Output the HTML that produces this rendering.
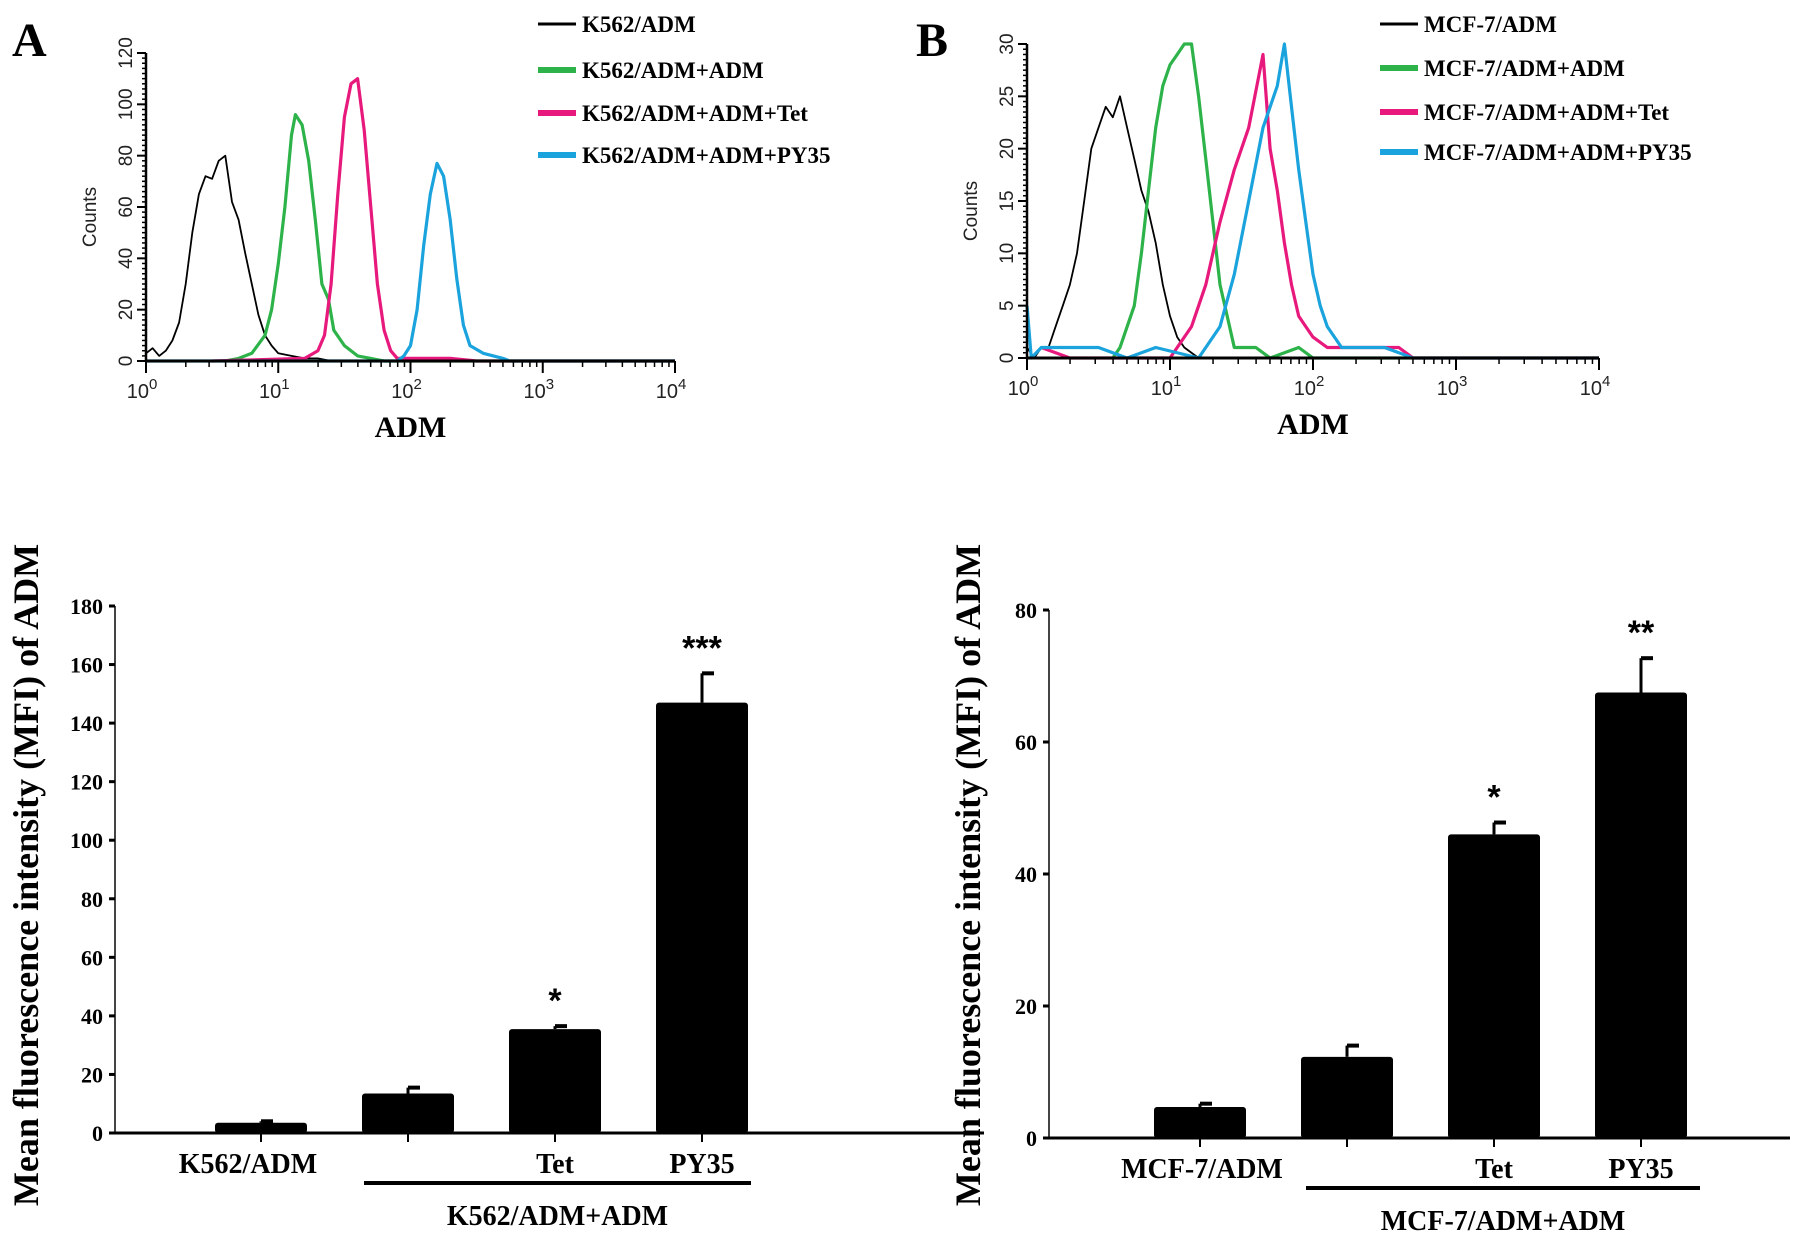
<!DOCTYPE html>
<html><head><meta charset="utf-8"><style>
html,body{margin:0;padding:0;background:#fff;}
svg{display:block;}
</style></head><body>
<svg id="fig" width="1795" height="1234" viewBox="0 0 1795 1234" xmlns="http://www.w3.org/2000/svg">
<text x="12" y="56" font-family="Liberation Serif, serif" font-weight="bold" font-size="48">A</text>
<text x="916" y="56" font-family="Liberation Serif, serif" font-weight="bold" font-size="48">B</text>
</svg>
<script>
const NS='http://www.w3.org/2000/svg';
const svg=document.getElementById('fig');
function mk(tag,attrs,parent,text){const e=document.createElementNS(NS,tag);for(const k in attrs)e.setAttribute(k,attrs[k]);if(text!==undefined)e.textContent=text;(parent||svg).appendChild(e);return e;}

// ---------- Histogram data ----------
const histColors=['#000000','#2db34a','#e8197d','#1aa3dc'];
const histA_names=['K562/ADM','K562/ADM+ADM','K562/ADM+ADM+Tet','K562/ADM+ADM+PY35'];
const histA_black=[[0,3],[0.05,5],[0.1,2],[0.15,4],[0.2,8],[0.25,15],[0.3,30],[0.35,50],[0.4,65],[0.45,72],[0.5,71],[0.55,78],[0.6,80],[0.65,62],[0.7,55],[0.75,42],[0.8,30],[0.85,18],[0.9,10],[0.95,6],[1.0,3],[1.1,2],[1.2,1],[1.3,1],[1.4,0],[4,0]];
const histA_green=[[0.6,0],[0.7,1],[0.8,3],[0.9,10],[0.95,20],[1.0,38],[1.05,60],[1.1,88],[1.13,96],[1.18,92],[1.23,78],[1.28,55],[1.33,30],[1.38,24],[1.42,12],[1.5,6],[1.6,2],[1.7,1],[1.8,0],[4,0]];
const histA_pink=[[0.5,0],[1.2,1],[1.3,4],[1.35,10],[1.4,30],[1.45,65],[1.5,95],[1.55,108],[1.6,110],[1.65,90],[1.7,60],[1.75,30],[1.8,12],[1.85,4],[1.9,1],[2.0,1],[2.3,1],[2.5,0],[4,0]];
const histA_cyan=[[0,0],[1.9,0],[1.95,2],[2.0,6],[2.05,20],[2.1,45],[2.15,65],[2.2,77],[2.25,72],[2.3,55],[2.35,32],[2.4,14],[2.45,6],[2.55,3],[2.7,1],[2.75,0],[4,0]];
const histA_yticks=[0,20,40,60,80,100,120];

const histB_names=['MCF-7/ADM','MCF-7/ADM+ADM','MCF-7/ADM+ADM+Tet','MCF-7/ADM+ADM+PY35'];
const histB_black=[[0,1],[0.05,0],[0.1,1],[0.15,1],[0.2,3],[0.25,5],[0.3,7],[0.35,10],[0.4,15],[0.45,20],[0.5,22],[0.55,24],[0.6,23],[0.65,25],[0.7,22],[0.75,19],[0.8,16],[0.85,14],[0.9,11],[0.95,7],[1.0,4],[1.05,2],[1.1,1],[1.2,0],[4,0]];
const histB_green=[[0.6,0],[0.65,1],[0.75,5],[0.8,10],[0.85,16],[0.9,22],[0.95,26],[1.0,28],[1.05,29],[1.1,30],[1.15,30],[1.2,25],[1.25,19],[1.3,13],[1.35,7],[1.4,4],[1.45,1],[1.5,1],[1.6,1],[1.7,0],[1.9,1],[2.0,0],[4,0]];
const histB_pink=[[0.1,1],[0.3,0],[1.0,0],[1.05,1],[1.15,3],[1.25,7],[1.35,13],[1.45,18],[1.55,22],[1.65,29],[1.7,20],[1.75,16],[1.8,11],[1.85,7],[1.9,4],[1.95,3],[2.0,2],[2.1,1],[2.4,1],[2.6,1],[2.7,0],[4,0]];
const histB_cyan=[[0,5],[0.03,0],[0.1,1],[0.3,1],[0.5,1],[0.7,0],[0.9,1],[1.2,0],[1.35,3],[1.45,8],[1.55,15],[1.65,22],[1.75,26],[1.8,30],[1.85,24],[1.9,18],[1.95,13],[2.0,8],[2.05,5],[2.1,3],[2.2,1],[2.5,1],[2.7,0],[4,0]];
const histB_yticks=[0,5,10,15,20,25,30];
const decades=['0','1','2','3','4'];

// ---------- Bar data ----------
const barA_values=[3.5,13.5,35.5,147];
const barA_errors=[0.5,2,1,10];
const barA_stars=['','','*','***'];
const barA_yticks=[0,20,40,60,80,100,120,140,160,180];
const barA_labels=['K562/ADM','','Tet','PY35'];

const barB_values=[4.7,12.3,46,67.5];
const barB_errors=[0.5,1.7,1.8,5.2];
const barB_stars=['','','*','**'];
const barB_yticks=[0,20,40,60,80];
const barB_labels=['MCF-7/ADM','','Tet','PY35'];

function hist(o){
  const g=mk('g',{});
  
  
  const X=v=>o.x0+(v/4)*(o.x1-o.x0);
  const Y=v=>o.y0-(v/o.ymax)*(o.y0-o.y1);
  o.series.forEach((s,i)=>{
    const pts=s.map(p=>X(p[0]).toFixed(1)+','+Y(p[1]).toFixed(1)).join(' ');
    const pl=mk('polyline',{points:pts,fill:'none',stroke:histColors[i],'stroke-width':i==0?1.8:3.2,'stroke-linejoin':'round'},g);
    
    
  });
  mk('line',{x1:o.x0,y1:o.y0,x2:o.x1,y2:o.y0,stroke:'#000','stroke-width':3},g);
  mk('line',{x1:o.x0,y1:o.y0,x2:o.x0,y2:o.y1,stroke:'#000','stroke-width':2.5},g);
  const step=o.ymax/60;
  for(let v=0;v<=o.ymax+1e-9;v+=step){mk('line',{x1:o.x0-4,y1:Y(v),x2:o.x0,y2:Y(v),stroke:'#000','stroke-width':1.5},g);}
  o.yticks.forEach(v=>{
    mk('line',{x1:o.x0-9,y1:Y(v),x2:o.x0,y2:Y(v),stroke:'#000','stroke-width':2},g);
    const t=mk('text',{x:o.x0-14,y:Y(v),transform:`rotate(-90 ${o.x0-14} ${Y(v)})`,'text-anchor':'middle','font-family':'Liberation Sans, sans-serif','font-size':19,fill:'#222'},g,String(v));
    
    
  });
  for(let d=0;d<4;d++){for(let k=2;k<=9;k++){const xx=X(d+Math.log10(k));mk('line',{x1:xx,y1:o.y0,x2:xx,y2:o.y0+6,stroke:'#000','stroke-width':1.5},g);}}
  decades.forEach(d=>{
    const xx=X(+d);
    mk('line',{x1:xx,y1:o.y0,x2:xx,y2:o.y0+12,stroke:'#000','stroke-width':2},g);
    const t=mk('text',{x:xx-4,y:o.y0+37,'text-anchor':'middle','font-family':'Liberation Sans, sans-serif','font-size':20,fill:'#222'},g);
    
    
    mk('tspan',{},t,'10');
    mk('tspan',{dy:-9,'font-size':15},t,d);
  });
  const yt=mk('text',{x:o.x0-50,y:(o.y0+o.y1)/2+10,transform:`rotate(-90 ${o.x0-50} ${(o.y0+o.y1)/2+10})`,'text-anchor':'middle','font-family':'Liberation Sans, sans-serif','font-size':19,fill:'#222'},g,'Counts');
  
  
  const xt=mk('text',{x:(o.x0+o.x1)/2,y:o.y0+76,'text-anchor':'middle','font-family':'Liberation Serif, serif','font-weight':'bold','font-size':30},g,'ADM');
  
  
  o.names.forEach((n,i)=>{
    const ly=o.legY[i];
    const le=mk('g',{},g);
    
    
    mk('line',{x1:o.legX,y1:ly,x2:o.legX+38,y2:ly,stroke:histColors[i],'stroke-width':i==0?3:6},le);
    mk('text',{x:o.legX+44,y:ly+8,'font-family':'Liberation Serif, serif','font-weight':'bold','font-size':23},le,n);
  });
}

hist({id:'histogram-panel-a',x0:146,x1:675,y0:361,y1:53,ymax:120,yticks:histA_yticks,series:[histA_black,histA_green,histA_pink,histA_cyan],names:histA_names,legX:538,legY:[24,70,113,155]});
hist({id:'histogram-panel-b',x0:1027,x1:1599,y0:358,y1:44,ymax:30,yticks:histB_yticks,series:[histB_black,histB_green,histB_pink,histB_cyan],names:histB_names,legX:1380,legY:[24,68,112,152]});

function bars(o){
  const g=mk('g',{});
  
  
  const Y=v=>o.y0-(v/o.ymax)*(o.y0-o.y1);
  const X=i=>o.c0+i*o.dx;
  mk('line',{x1:o.x0,y1:o.y0,x2:o.x0,y2:o.y1,stroke:'#444','stroke-width':2},g);
  o.yticks.forEach(v=>{
    mk('line',{x1:o.x0-6,y1:Y(v),x2:o.x0,y2:Y(v),stroke:'#000','stroke-width':3},g);
    const t=mk('text',{x:o.x0-12,y:Y(v)+8,'text-anchor':'end','font-family':'Liberation Serif, serif','font-weight':'bold','font-size':22},g,String(v));
    
    
  });
  o.values.forEach((v,i)=>{
    const cx=X(i),top=Y(v),et=Y(v+o.errors[i]);
    mk('line',{x1:cx,y1:top,x2:cx,y2:et,stroke:'#000','stroke-width':3},g);
    mk('line',{x1:cx,y1:et,x2:cx+12,y2:et,stroke:'#000','stroke-width':4},g);
    const r=mk('rect',{x:cx-46,y:top,width:92,height:o.y0-top,fill:'#000',rx:3},g);
    
    
    mk('line',{x1:cx,y1:o.y0,x2:cx,y2:o.y0+9,stroke:'#000','stroke-width':2},g);
    if(o.stars[i]){const s=mk('text',{x:cx,y:et-14,'text-anchor':'middle','font-family':'Liberation Sans, sans-serif','font-weight':'bold','font-size':34},g,o.stars[i]);
      
      }
    if(o.labels[i]){const t=mk('text',{x:i==0?o.lab0:cx,y:o.y0+40,'text-anchor':'middle','font-family':'Liberation Serif, serif','font-weight':'bold','font-size':28},g,o.labels[i]);
      
      }
  });
  mk('line',{x1:o.x0-4,y1:o.y0,x2:o.xend,y2:o.y0,stroke:'#000','stroke-width':3},g);
  const gl=mk('line',{x1:o.gl0,y1:o.y0+50,x2:o.gl1,y2:o.y0+50,stroke:'#000','stroke-width':4},g);
  
  
  const gt=mk('text',{x:(o.gl0+o.gl1)/2,y:o.y0+92,'text-anchor':'middle','font-family':'Liberation Serif, serif','font-weight':'bold','font-size':28},g,o.group);
  
  
  const yx=o.tx,yy=875;
  const yt=mk('text',{x:yx,y:yy,transform:`rotate(-90 ${yx} ${yy})`,'text-anchor':'middle','font-family':'Liberation Serif, serif','font-weight':'bold','font-size':36},g,'Mean fluorescence intensity (MFI) of ADM');
  
  
}
bars({id:'bar-chart-a',x0:115,xend:984,y0:1133,y1:606,ymax:180,yticks:barA_yticks,values:barA_values,errors:barA_errors,stars:barA_stars,labels:barA_labels,c0:261,dx:147,lab0:248,gl0:364,gl1:751,group:'K562/ADM+ADM',tx:38});
bars({id:'bar-chart-b',x0:1049,xend:1790,y0:1138,y1:610,ymax:80,yticks:barB_yticks,values:barB_values,errors:barB_errors,stars:barB_stars,labels:barB_labels,c0:1200,dx:147,lab0:1202,gl0:1306,gl1:1700,group:'MCF-7/ADM+ADM',tx:980});
</script>
</body></html>
